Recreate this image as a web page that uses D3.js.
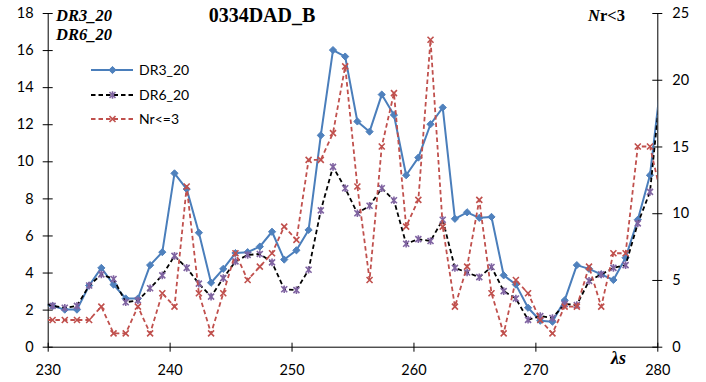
<!DOCTYPE html>
<html>
<head>
<meta charset="utf-8">
<script src="https://cdn.jsdelivr.net/npm/d3@7"></script>
<style>
  html, body { margin: 0; padding: 0; background: #fff; }
  svg { display: block; }
</style>
</head>
<body>
<svg id="chart" width="706" height="382"></svg>
<script>
// Wavelength positions of the samples (the first and last fall just outside the axis range)
const wavelengths = [229.4, 230.4, 231.4, 232.4, 233.4, 234.4, 235.4, 236.4, 237.4, 238.4,
  239.4, 240.4, 241.4, 242.4, 243.4, 244.4, 245.4, 246.4, 247.4, 248.4,
  249.4, 250.4, 251.4, 252.4, 253.4, 254.4, 255.4, 256.4, 257.4, 258.4,
  259.4, 260.4, 261.4, 262.4, 263.4, 264.4, 265.4, 266.4, 267.4, 268.4,
  269.4, 270.4, 271.4, 272.4, 273.4, 274.4, 275.4, 276.4, 277.4, 278.4,
  279.4, 280.4];

// Left axis series
const dr3 = [2.3, 2.2, 2.0, 2.0, 3.3, 4.25, 3.35, 2.6, 2.6, 4.4,
  5.1, 9.35, 8.5, 6.15, 3.45, 4.2, 5.05, 5.1, 5.4, 6.2,
  4.7, 5.2, 6.3, 11.4, 16.0, 15.65, 12.15, 11.6, 13.6, 12.5,
  9.25, 10.2, 12.0, 12.9, 6.9, 7.25, 6.95, 7.0, 3.85, 3.35,
  2.1, 1.4, 1.35, 2.5, 4.4, 4.2, 3.9, 3.6, 4.8, 6.85,
  9.25, 14.9];
const dr6 = [2.4, 2.2, 2.1, 2.2, 3.3, 3.9, 3.65, 2.4, 2.5, 3.15,
  3.85, 4.9, 4.25, 3.4, 2.7, 3.7, 4.6, 4.95, 5.0, 4.55,
  3.1, 3.05, 4.15, 7.35, 9.7, 8.55, 7.2, 7.6, 8.55, 7.9,
  5.55, 5.8, 5.7, 6.85, 4.25, 4.0, 3.75, 4.3, 3.0, 2.6,
  1.45, 1.65, 1.55, 2.3, 2.25, 3.55, 3.9, 4.25, 4.4, 6.65,
  8.35, 14.8];
// Right axis series
const nrLe3 = [2, 2, 2, 2, 2, 3, 1, 1, 3, 1,
  4, 3, 12, 4, 1, 4, 7, 5, 6, 7,
  9, 8, 14, 14, 16, 21, 12, 5, 15, 19,
  9, 11, 23, 9, 3, 6, 11, 4, 1, 5,
  4, 2, 1, 3, 3, 6, 3, 7, 7, 15,
  15, 11];

const seriesNames = ["DR3_20", "DR6_20", "Nr<=3"];
const leftTicks = [0, 2, 4, 6, 8, 10, 12, 14, 16, 18];
const rightTicks = [0, 5, 10, 15, 20, 25];
const xTicks = [230, 240, 250, 260, 270, 280];

const svg = d3.select("#chart");
const plot = { left: 47.7, right: 657.3, top: 13, bottom: 346.7 };

const x = d3.scaleLinear().domain([230, 280]).range([plot.left, plot.right]);
const yL = d3.scaleLinear().domain([0, 18]).range([plot.bottom, plot.top]);
const yR = d3.scaleLinear().domain([0, 25]).range([plot.bottom, plot.top]);

const tickFont = "Lato, 'Open Sans', sans-serif";
const serif = "'Liberation Serif', 'DejaVu Serif', serif";

svg.append("defs").append("clipPath").attr("id", "plotClip")
  .append("rect")
  .attr("x", plot.left).attr("y", 0)
  .attr("width", plot.right - plot.left).attr("height", plot.bottom);

// ---- axes ----
const axisL = svg.append("g")
  .attr("transform", `translate(${plot.left},0)`)
  .call(d3.axisLeft(yL).tickValues(leftTicks).tickSizeOuter(0).tickSizeInner(5));
axisL.selectAll(".tick line").attr("x1", 5);
axisL.selectAll(".tick text").attr("x", -14);

const axisR = svg.append("g")
  .attr("transform", `translate(${plot.right},0)`)
  .call(d3.axisRight(yR).tickValues(rightTicks).tickSizeOuter(0).tickSizeInner(5));
axisR.selectAll(".tick line").attr("x1", -5);
axisR.selectAll(".tick text").attr("x", 15);

const axisB = svg.append("g")
  .attr("transform", `translate(0,${plot.bottom})`)
  .call(d3.axisBottom(x).tickValues(xTicks).tickFormat(d3.format("d")).tickSizeOuter(0).tickSizeInner(5));
axisB.selectAll(".tick line").attr("y1", -4);
axisB.selectAll(".tick text").attr("y", 28).attr("dy", 0);

svg.selectAll(".domain, .tick line").attr("stroke", "#000").attr("stroke-width", 1);
svg.selectAll(".tick text")
  .attr("fill", "#000")
  .style("font-family", tickFont)
  .style("font-size", "14.5px");

// ---- series ----
const plotG = svg.append("g").attr("clip-path", "url(#plotClip)");

const inRange = (d) => d.x >= 230 && d.x <= 280;
const toPoints = (vals) => vals.map((v, i) => ({ x: wavelengths[i], v }));

const markerPaths = {
  diamond: "M0,-3.6L3.6,0L0,3.6L-3.6,0Z",
  star: "M-3,-3L3,3M-3,3L3,-3M0,-3.8L0,3.8",
  cross: "M-3,-3L3,3M-3,3L3,-3"
};

const series = [
  { name: seriesNames[0], vals: dr3, y: yL, color: "#4A7EBB", width: 2, dash: null,
    marker: "diamond", mFill: "#4F81BD", mStroke: "#4F81BD", mWidth: 1 },
  { name: seriesNames[1], vals: dr6, y: yL, color: "#000000", width: 1.8, dash: "4.5,3",
    marker: "star", mFill: "none", mStroke: "#8064A2", mWidth: 1.6 },
  { name: seriesNames[2], vals: nrLe3, y: yR, color: "#C0504D", width: 1.8, dash: "4.5,3",
    marker: "cross", mFill: "none", mStroke: "#C0504D", mWidth: 1.6 }
];

series.forEach((s) => {
  const pts = toPoints(s.vals);
  const line = d3.line().x((d) => x(d.x)).y((d) => s.y(d.v));
  plotG.append("path")
    .datum(pts)
    .attr("d", line)
    .attr("fill", "none")
    .attr("stroke", s.color)
    .attr("stroke-width", s.width)
    .attr("stroke-dasharray", s.dash)
    .attr("stroke-linejoin", "round");
  plotG.append("g").selectAll("path")
    .data(pts.filter(inRange))
    .join("path")
    .attr("transform", (d) => `translate(${x(d.x)},${s.y(d.v)})`)
    .attr("d", markerPaths[s.marker])
    .attr("fill", s.mFill)
    .attr("stroke", s.mStroke)
    .attr("stroke-width", s.mWidth);
});

// ---- legend ----
const legendRows = [70, 95, 119];
const legend = svg.append("g");
series.forEach((s, i) => {
  const g = legend.append("g").attr("transform", `translate(0,${legendRows[i]})`);
  g.append("line")
    .attr("x1", 91).attr("x2", 133).attr("y1", 0).attr("y2", 0)
    .attr("stroke", s.color).attr("stroke-width", s.width)
    .attr("stroke-dasharray", s.dash);
  g.append("path")
    .attr("transform", "translate(112.5,0)")
    .attr("d", markerPaths[s.marker])
    .attr("fill", s.mFill).attr("stroke", s.mStroke).attr("stroke-width", s.mWidth);
  g.append("text")
    .attr("x", 139).attr("y", 5)
    .style("font-family", tickFont).style("font-size", "14px")
    .attr("fill", "#000")
    .text(s.name);
});

// ---- titles and axis captions ----
svg.append("text")
  .attr("x", 262).attr("y", 21.5).attr("text-anchor", "middle")
  .style("font-family", serif).style("font-weight", "bold").style("font-size", "20px")
  .text("0334DAD_B");

const leftCaps = ["DR3_20", "DR6_20"];
leftCaps.forEach((t, i) => {
  svg.append("text")
    .attr("x", 56).attr("y", 20.5 + i * 19.5)
    .style("font-family", serif).style("font-weight", "bold")
    .style("font-style", "italic").style("font-size", "16.5px")
    .text(t);
});

const nrCap = svg.append("text")
  .attr("x", 588).attr("y", 20.5)
  .style("font-family", serif).style("font-weight", "bold").style("font-size", "16.5px");
nrCap.append("tspan").style("font-style", "italic").text("N");
nrCap.append("tspan").text("r<3");

svg.append("text")
  .attr("x", 611).attr("y", 364)
  .style("font-family", serif).style("font-weight", "bold")
  .style("font-style", "italic").style("font-size", "18px")
  .text("λs");
</script>
</body>
</html>
